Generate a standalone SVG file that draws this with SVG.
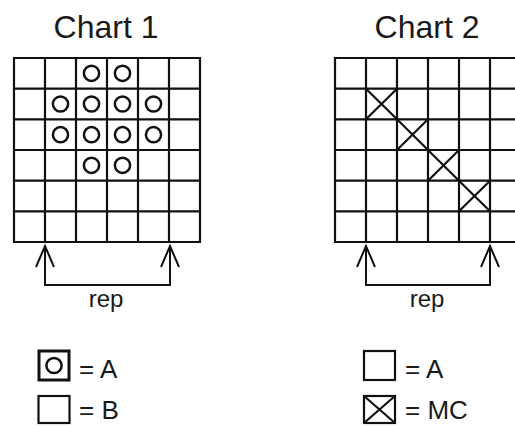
<svg xmlns="http://www.w3.org/2000/svg" width="515" height="427" viewBox="0 0 515 427">
<style>
.t{font-family:"Liberation Sans",Arial,sans-serif;fill:#1a1a1a}
.g{fill:none;stroke:#111;stroke-width:2.2}
.c{fill:none;stroke:#111;stroke-width:2.5}
.ln{fill:none;stroke:#111;stroke-width:2;stroke-linejoin:miter}
</style>
<defs>
<path id="grid" class="g" d="M0 0H186V184H0Z M31 0V184 M62 0V184 M93 0V184 M124 0V184 M155 0V184 M0 30.67H186 M0 61.33H186 M0 92H186 M0 122.67H186 M0 153.33H186"/>
</defs>
<rect width="515" height="427" fill="#fff"/>

<g id="chart1">
<text class="t" x="106" y="38" font-size="32" text-anchor="middle">Chart 1</text>
<use href="#grid" x="14" y="58"/>
<g class="c">
<circle cx="91.5" cy="73.3" r="7.6"/><circle cx="122.5" cy="73.3" r="7.6"/>
<circle cx="60.5" cy="104" r="7.6"/><circle cx="91.5" cy="104" r="7.6"/><circle cx="122.5" cy="104" r="7.6"/><circle cx="153.5" cy="104" r="7.6"/>
<circle cx="60.5" cy="134.7" r="7.6"/><circle cx="91.5" cy="134.7" r="7.6"/><circle cx="122.5" cy="134.7" r="7.6"/><circle cx="153.5" cy="134.7" r="7.6"/>
<circle cx="91.5" cy="165.3" r="7.6"/><circle cx="122.5" cy="165.3" r="7.6"/>
</g>
</g>

<g id="chart2">
<text class="t" x="427" y="38" font-size="32" text-anchor="middle">Chart 2</text>
<use href="#grid" x="335" y="58"/>
<path class="g" d="M366 88.67L397 119.33M397 88.67L366 119.33 M397 119.33L428 150M428 119.33L397 150 M428 150L459 180.67M459 150L428 180.67 M459 180.67L490 211.33M490 180.67L459 211.33"/>
</g>

<g id="connectors">
<path class="ln" d="M45 246V285H170V246 M36 267L45 246L54 267 M161 267L170 246L179 267"/>
<path class="ln" d="M366 246V285H490V246 M357 267L366 246L375 267 M481 267L490 246L499 267"/>
</g>
<text class="t" x="106" y="307" font-size="24" text-anchor="middle">rep</text>
<text class="t" x="427" y="307" font-size="24" text-anchor="middle">rep</text>

<g id="legend1">
<rect x="39" y="351" width="30" height="29" fill="none" stroke="#111" stroke-width="3"/>
<circle cx="54" cy="365.5" r="7.6" class="c"/>
<text class="t" x="79" y="378" font-size="26">= A</text>
<rect x="38.5" y="396" width="31" height="27" class="g"/>
<text class="t" x="79" y="419" font-size="26">= B</text>
</g>
<g id="legend2">
<rect x="364" y="351" width="31" height="29" class="g"/>
<text class="t" x="405" y="378" font-size="26">= A</text>
<rect x="364" y="396" width="31" height="27" class="g"/>
<path class="g" d="M364 396L395 423M395 396L364 423"/>
<text class="t" x="405" y="419" font-size="26">= MC</text>
</g>
</svg>
